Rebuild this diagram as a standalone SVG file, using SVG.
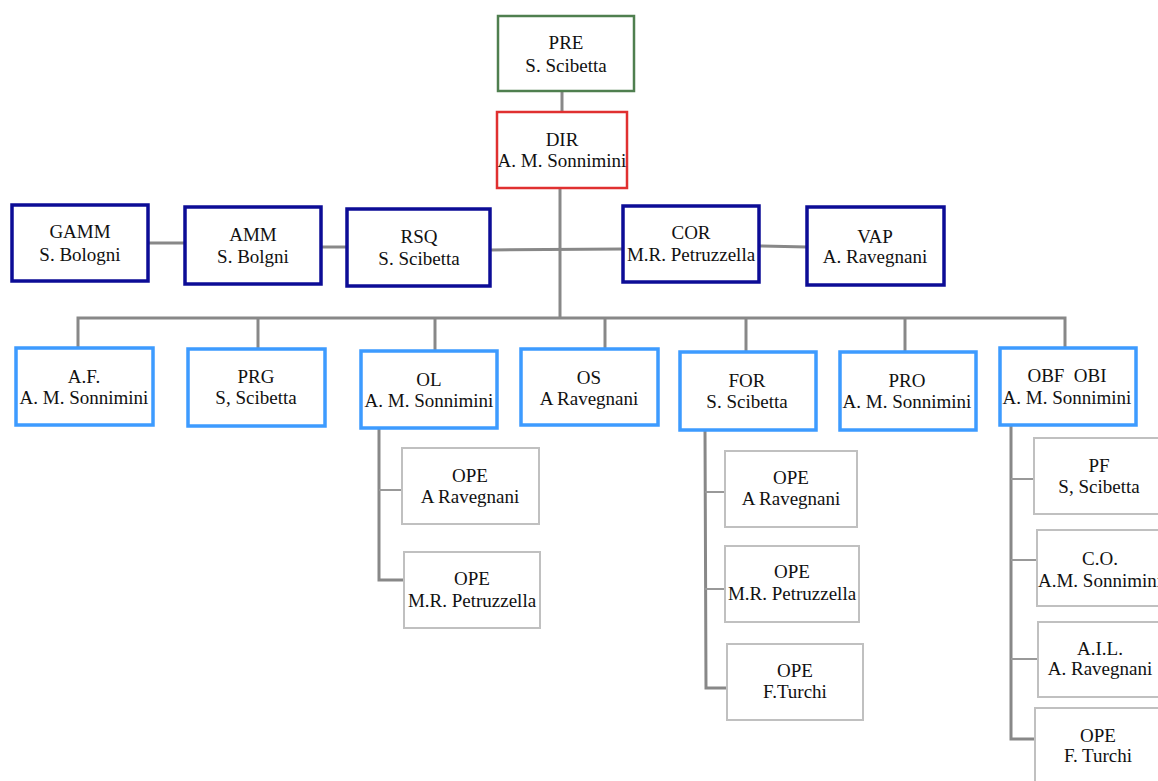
<svg xmlns="http://www.w3.org/2000/svg" width="1158" height="781" viewBox="0 0 1158 781">
<style>
text{font-family:'Liberation Serif','Times New Roman',Times,'DejaVu Serif',serif;font-size:19px;fill:#111;text-anchor:middle}
rect{fill:#fff}
.pre{stroke:#4f7f4f;stroke-width:2.5}
.dir{stroke:#e03030;stroke-width:2.5}
.b2{stroke:#0c0c96;stroke-width:3.5}
.b3{stroke:#3d9bff;stroke-width:3.5}
.sub{stroke:#c0c0c0;stroke-width:2}
.c{stroke:#888;stroke-width:3;fill:none}
.cs{stroke:#999;stroke-width:2;fill:none}
</style>
<g id="connectors">
<line class="c" x1="562" y1="91" x2="562" y2="112"/>
<line class="c" x1="560" y1="188" x2="560" y2="319"/>
<line class="c" x1="148" y1="243" x2="185" y2="243"/>
<line class="c" x1="321" y1="247" x2="347" y2="247"/>
<line class="c" x1="490" y1="250" x2="623" y2="249"/>
<line class="c" x1="759" y1="246" x2="807" y2="247"/>
<polyline class="c" points="78,348 78,318 1065,318 1065,348"/>
<line class="c" x1="258" y1="318" x2="258" y2="349"/>
<line class="c" x1="435" y1="318" x2="435" y2="351"/>
<line class="c" x1="605" y1="318" x2="605" y2="349"/>
<line class="c" x1="746" y1="318" x2="746" y2="352"/>
<line class="c" x1="905" y1="318" x2="905" y2="352"/>
<polyline class="c" points="379,428 379,580 404,580"/>
<line class="cs" x1="379" y1="490" x2="402" y2="490"/>
<polyline class="c" points="705,430 706,688 727,688"/>
<line class="cs" x1="705" y1="492" x2="725" y2="492"/>
<line class="cs" x1="705" y1="589" x2="725" y2="589"/>
<polyline class="c" points="1011,425 1011,739 1035,739"/>
<line class="cs" x1="1011" y1="479" x2="1034" y2="479"/>
<line class="cs" x1="1011" y1="560" x2="1037" y2="560"/>
<line class="cs" x1="1011" y1="659" x2="1038" y2="659"/>
</g>
<g id="PRE"><rect class="pre" x="498" y="16" width="136" height="75"/><text x="566" y="49">PRE</text><text x="566" y="72">S. Scibetta</text></g>
<g id="DIR"><rect class="dir" x="497" y="112" width="130" height="76"/><text x="562" y="146">DIR</text><text x="562" y="167">A. M. Sonnimini</text></g>
<g id="GAMM"><rect class="b2" x="12" y="205" width="136" height="76"/><text x="80" y="238">GAMM</text><text x="80" y="261">S. Bologni</text></g>
<g id="AMM"><rect class="b2" x="185" y="207" width="136" height="77"/><text x="253" y="241">AMM</text><text x="253" y="263">S. Bolgni</text></g>
<g id="RSQ"><rect class="b2" x="347" y="209" width="143" height="77"/><text x="419" y="243">RSQ</text><text x="419" y="265">S. Scibetta</text></g>
<g id="COR"><rect class="b2" x="623" y="206" width="136" height="76"/><text x="691" y="239">COR</text><text x="691" y="261">M.R. Petruzzella</text></g>
<g id="VAP"><rect class="b2" x="807" y="207" width="137" height="78"/><text x="875" y="243">VAP</text><text x="875" y="263">A. Ravegnani</text></g>
<g id="AF"><rect class="b3" x="16" y="348" width="137" height="77"/><text x="84" y="383">A.F.</text><text x="84" y="404">A. M. Sonnimini</text></g>
<g id="PRG"><rect class="b3" x="188" y="349" width="137" height="77"/><text x="256" y="383">PRG</text><text x="256" y="404">S, Scibetta</text></g>
<g id="OL"><rect class="b3" x="361" y="351" width="136" height="77"/><text x="429" y="386">OL</text><text x="429" y="407">A. M. Sonnimini</text></g>
<g id="OS"><rect class="b3" x="521" y="349" width="137" height="76"/><text x="589" y="384">OS</text><text x="589" y="405">A Ravegnani</text></g>
<g id="FOR"><rect class="b3" x="680" y="352" width="136" height="78"/><text x="747" y="387">FOR</text><text x="747" y="408">S. Scibetta</text></g>
<g id="PRO"><rect class="b3" x="840" y="352" width="136" height="78"/><text x="907" y="387">PRO</text><text x="907" y="408">A. M. Sonnimini</text></g>
<g id="OBF"><rect class="b3" x="1000" y="348" width="136" height="77"/><text x="1067" y="382" xml:space="preserve">OBF  OBI</text><text x="1067" y="404">A. M. Sonnimini</text></g>
<g id="OL_OPE1"><rect class="sub" x="402" y="448" width="137" height="76"/><text x="470" y="482">OPE</text><text x="470" y="503">A Ravegnani</text></g>
<g id="OL_OPE2"><rect class="sub" x="404" y="552" width="136" height="76"/><text x="472" y="585">OPE</text><text x="472" y="607">M.R. Petruzzella</text></g>
<g id="FOR_OPE1"><rect class="sub" x="725" y="451" width="132" height="76"/><text x="791" y="484">OPE</text><text x="791" y="505">A Ravegnani</text></g>
<g id="FOR_OPE2"><rect class="sub" x="725" y="546" width="134" height="76"/><text x="792" y="578">OPE</text><text x="792" y="600">M.R. Petruzzella</text></g>
<g id="FOR_OPE3"><rect class="sub" x="727" y="644" width="136" height="76"/><text x="795" y="677">OPE</text><text x="795" y="698">F.Turchi</text></g>
<g id="PF"><rect class="sub" x="1034" y="438" width="134" height="76"/><text x="1099" y="472">PF</text><text x="1099" y="493">S, Scibetta</text></g>
<g id="CO"><rect class="sub" x="1037" y="530" width="134" height="76"/><text x="1100" y="565">C.O.</text><text x="1100" y="587">A.M. Sonnimini</text></g>
<g id="AIL"><rect class="sub" x="1038" y="622" width="134" height="75"/><text x="1100" y="655">A.I.L.</text><text x="1100" y="675">A. Ravegnani</text></g>
<g id="OBF_OPE"><rect class="sub" x="1035" y="708" width="134" height="80"/><text x="1098" y="742">OPE</text><text x="1098" y="762">F. Turchi</text></g>
</svg>
